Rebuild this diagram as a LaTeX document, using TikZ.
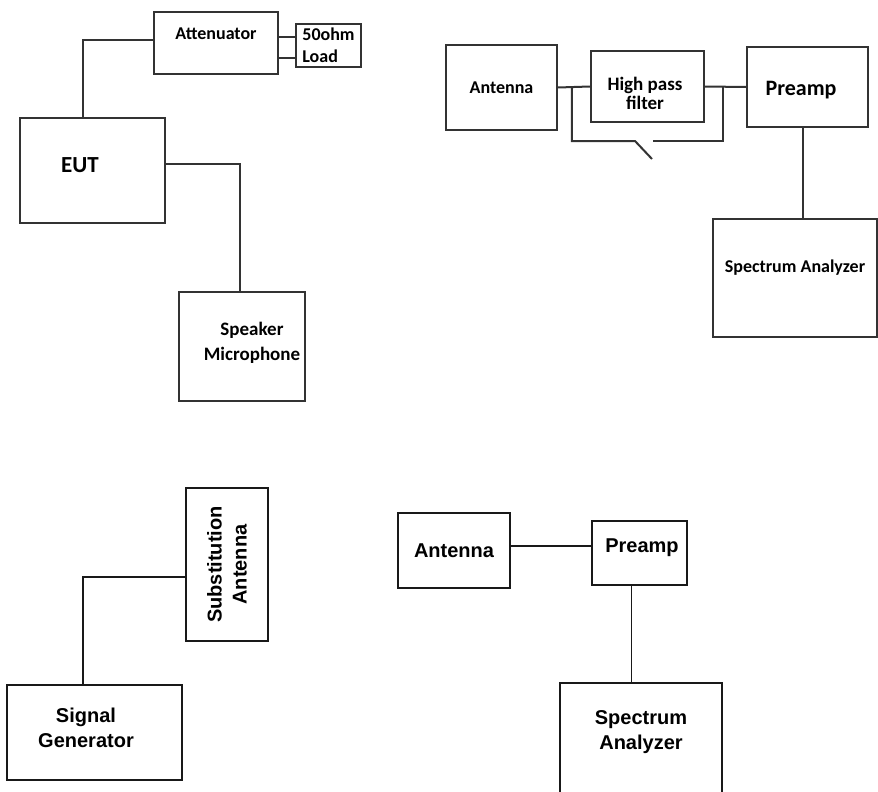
\documentclass[tikz,border=0pt]{standalone}
\usepackage{fontspec}
\setmainfont{Carlito}[BoldFont={Carlito Bold}]
\newfontfamily\arialfont{Liberation Sans}
\usetikzlibrary{positioning,calc}

\begin{document}
\begin{tikzpicture}[x=1pt,y=-1pt,
  box/.style={draw=black!80,line width=2pt,inner sep=0pt,align=center,
              font=\bfseries\fontsize{18}{22}\selectfont},
  abox/.style={draw=black!90,line width=1.8pt,inner sep=0pt,align=center,
              font=\arialfont\bfseries\fontsize{20}{25}\selectfont},
  txt/.style={font=\bfseries\fontsize{18}{22}\selectfont,align=center},
  atxt/.style={font=\arialfont\bfseries\fontsize{20}{25}\selectfont,align=center},
  wire/.style={draw=black!80,line width=2pt},
  awire/.style={draw=black!90,line width=1.8pt}]
\useasboundingbox[fill=white] (0,0) rectangle (878,792);
\clip (0,0) rectangle (878,792);

% EUT with attenuator and speaker microphone
\node[box,minimum width=124pt,minimum height=62pt,
      label={[txt,yshift=9pt]center:Attenuator}] (att) at (216,43) {};
\node[box,align=left,minimum width=65pt,minimum height=43pt] (load) at (328.5,45.5) {50ohm\\Load};
\node[box,minimum width=145pt,minimum height=105pt,
      label={[txt,font=\bfseries\fontsize{23}{26}\selectfont,xshift=-12.5pt,yshift=5.5pt]center:EUT}] (eut) at (92.5,170.5) {};
\node[box,minimum width=126pt,minimum height=109pt,
      label={[txt,font=\bfseries\fontsize{19}{25}\selectfont,xshift=10pt,yshift=3.5pt]center:Speaker\\Microphone}] (spk) at (242,346.5) {};
\coordinate (l1) at ([yshift=8.5pt]load.west);
\coordinate (l2) at ([yshift=-12.5pt]load.west);
\draw[wire] (l1) -- (l1 -| att.east);
\draw[wire] (l2) -- (l2 -| att.east);
\draw[wire] ([yshift=3pt]att.west) -| ([xshift=-9.5pt]eut.north);
\draw[wire] ([yshift=6.5pt]eut.east) -| ([xshift=-2pt]spk.north);

% antenna, filter, preamp and analyzer
\node[box,minimum width=111pt,minimum height=85pt] (ant) at (501.5,87.5) {Antenna};
\node[box,minimum width=113pt,minimum height=71pt,
      label={[txt,font=\bfseries\fontsize{19}{19}\selectfont,xshift=-2.5pt,yshift=-6.5pt]center:High pass\\filter}] (hpf) at (647.5,86.5) {};
\node[box,minimum width=121pt,minimum height=80pt,
      label={[txt,font=\bfseries\fontsize{22}{24}\selectfont,xshift=-6.5pt,yshift=-3pt]center:Preamp}] (pre) at (807.5,87) {};
\node[box,minimum width=164pt,minimum height=118pt,
      label={[txt,yshift=10pt]center:Spectrum Analyzer}] (sa) at (795,278) {};
\draw[wire] (ant.east) -- (hpf.west);
\draw[wire] (hpf.east) -- (pre.west);
\coordinate (j1) at ($(ant.east)!0.43!(hpf.west)$);
\coordinate (j2) at ($(hpf.east)!0.44!(pre.west)$);
\coordinate (swa) at (635,141);
\coordinate (swb) at (653,141);
\draw[wire] (j1) |- (swa) -- ++(17,18);
\draw[wire] (swb) -| (j2);
\coordinate (p1) at ([xshift=-4.5pt]pre.south);
\draw[wire] (p1) -- (p1 |- sa.north);

% signal generator and substitution antenna
\node[abox,minimum width=82pt,minimum height=153pt,
      label={[atxt,rotate=90]center:Substitution\\Antenna}] (sub) at (227,564.5) {};
\node[abox,minimum width=175pt,minimum height=95pt,
      label={[atxt,xshift=-8.5pt,yshift=4.5pt]center:Signal\\Generator}] (sig) at (94.5,732.5) {};
\draw[awire] ([yshift=-12.5pt]sub.west) -| ([xshift=-11.5pt]sig.north);

% antenna, preamp and analyzer
\node[abox,minimum width=112pt,minimum height=75pt] (ant2) at (454,550.5) {Antenna};
\node[abox,minimum width=95pt,minimum height=64pt,
      label={[atxt,xshift=2.5pt,yshift=5pt]center:Preamp}] (pre2) at (639.5,553) {};
\node[abox,minimum width=162pt,minimum height=127pt,
      label={[atxt,yshift=14.5pt]center:Spectrum\\Analyzer}] (sa2) at (641,746.5) {};
\coordinate (q1) at ([yshift=7pt]pre2.west);
\draw[awire] (q1) -- (q1 -| ant2.east);
\coordinate (q2) at ([xshift=-8pt]pre2.south);
\draw[awire] (q2) -- (q2 |- sa2.north);
\end{tikzpicture}
\end{document}
